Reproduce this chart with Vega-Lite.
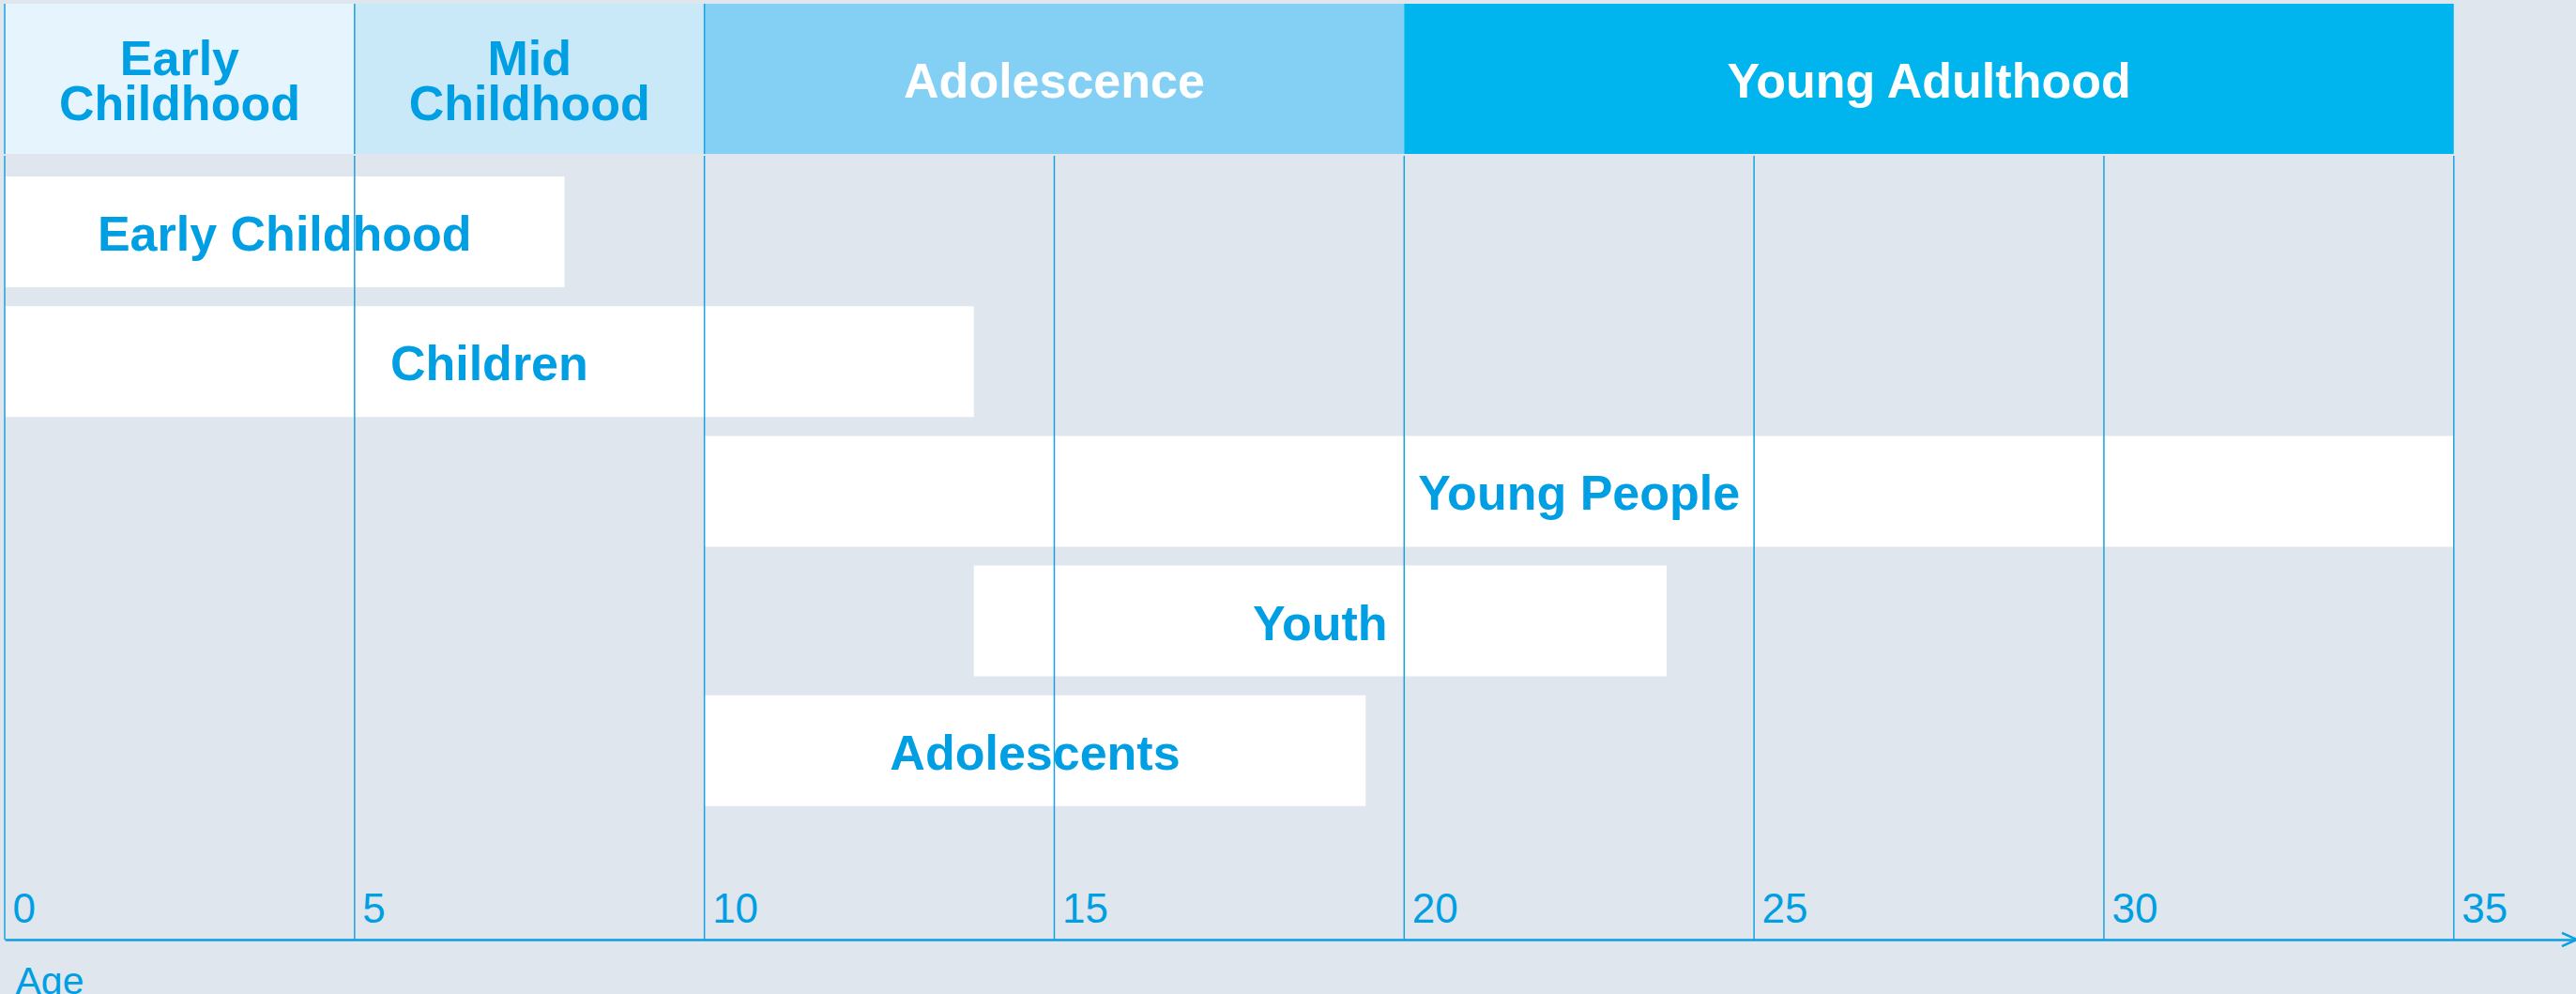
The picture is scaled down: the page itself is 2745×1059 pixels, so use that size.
{
  "$schema": "https://vega.github.io/schema/vega-lite/v6.json",
  "background": "#DFE6EE",
  "padding": {"left": 4, "top": 3, "right": 0, "bottom": 5},
  "spacing": 0,
  "config": {"view": {"stroke": null}, "font": "Liberation Sans"},
  "datasets": {
    "stages": [
      {"stage": "Early\nChildhood", "start": 0, "end": 5},
      {"stage": "Mid\nChildhood", "start": 5, "end": 10},
      {"stage": "Adolescence", "start": 10, "end": 20},
      {"stage": "Young Adulthood", "start": 20, "end": 35}
    ],
    "groups": [
      {"group": "Early Childhood", "from": 0, "to": 8},
      {"group": "Children", "from": 0, "to": 13.85},
      {"group": "Young People", "from": 10, "to": 35},
      {"group": "Youth", "from": 13.85, "to": 23.75},
      {"group": "Adolescents", "from": 10, "to": 19.45}
    ],
    "ticks": [{"age": 0}, {"age": 5}, {"age": 10}, {"age": 15}, {"age": 20}, {"age": 25}, {"age": 30}, {"age": 35}]
  },
  "vconcat": [
    {
      "width": 2741,
      "height": 160,
      "data": {"name": "stages"},
      "layer": [
        {
          "mark": {"type": "rect"},
          "encoding": {
            "x": {"field": "start", "type": "quantitative", "scale": {"domain": [0, 36.76], "nice": false, "zero": false}, "axis": null},
            "x2": {"field": "end"},
            "color": {"field": "stage", "type": "nominal", "legend": null,
              "scale": {"domain": ["Early\nChildhood", "Mid\nChildhood", "Adolescence", "Young Adulthood"], "range": ["#E5F4FD", "#C9E8F8", "#84D0F5", "#00B5EE"]}}
          }
        },
        {
          "data": {"name": "ticks"},
          "transform": [{"filter": "datum.age <= 10"}],
          "mark": {"type": "rule", "color": "#1AA1E0", "strokeWidth": 1.5},
          "encoding": {
            "x": {"field": "age", "type": "quantitative", "axis": null}
          }
        },
        {
          "transform": [{"filter": "datum.start < 10"}, {"fold": ["start", "end"], "as": ["edge", "value"]}],
          "mark": {"type": "text", "fontSize": 52, "fontWeight": "bold", "lineBreak": "\n", "lineHeight": 48, "baseline": "middle", "align": "center", "dy": -20, "color": "#009FE3"},
          "encoding": {
            "x": {"aggregate": "mean", "field": "value", "type": "quantitative", "axis": null},
            "text": {"field": "stage", "type": "nominal"}
          }
        },
        {
          "transform": [{"filter": "datum.start >= 10"}, {"fold": ["start", "end"], "as": ["edge", "value"]}],
          "mark": {"type": "text", "fontSize": 52, "fontWeight": "bold", "baseline": "middle", "align": "center", "dy": 4, "color": "#FFFFFF"},
          "encoding": {
            "x": {"aggregate": "mean", "field": "value", "type": "quantitative", "axis": null},
            "text": {"field": "stage", "type": "nominal"}
          }
        }
      ]
    },
    {
      "width": 2741,
      "height": 835,
      "data": {"name": "groups"},
      "resolve": {"axis": {"x": "independent"}},
      "layer": [
        {
          "mark": {"type": "bar", "color": "#FFFFFF"},
          "encoding": {
            "x": {"field": "from", "type": "quantitative",
              "scale": {"domain": [0, 36.76], "nice": false, "zero": false},
              "axis": {
                "values": [0, 5, 10, 15, 20, 25, 30, 35],
                "title": "Age",
                "grid": false,
                "ticks": false,
                "tickSize": 0,
                "domain": true,
                "domainColor": "#0A9FE0",
                "domainWidth": 2.5,
                "labelColor": "#009FE3",
                "labelFontSize": 44,
                "labelFont": "Liberation Sans",
                "labelAlign": "left",
                "labelBaseline": "alphabetic",
                "labelPadding": -19,
                "labelOffset": 8,
                "labelFlush": false,
                "labelOverlap": false,
                "labelBound": false,
                "titleColor": "#009FE3",
                "titleFont": "Liberation Sans",
                "titleFontSize": 41,
                "titleFontWeight": "normal",
                "titleAnchor": "start",
                "titleAlign": "left",
                "titleBaseline": "alphabetic",
                "titleX": 11,
                "titleY": 57
              }
            },
            "x2": {"field": "to"},
            "y": {"field": "group", "type": "nominal", "axis": null,
              "scale": {"domain": ["Early Childhood", "Children", "Young People", "Youth", "Adolescents"], "paddingInner": 0.146, "paddingOuter": 0.594, "align": 0.134}}
          }
        },
        {
          "transform": [{"fold": ["from", "to"], "as": ["edge", "value"]}],
          "mark": {"type": "text", "fontSize": 52, "fontWeight": "bold", "color": "#009FE3", "baseline": "middle", "align": "center", "dy": 4},
          "encoding": {
            "x": {"aggregate": "mean", "field": "value", "type": "quantitative", "axis": null},
            "y": {"field": "group", "type": "nominal", "axis": null},
            "text": {"field": "group", "type": "nominal"}
          }
        },
        {
          "data": {"name": "ticks"},
          "mark": {"type": "rule", "color": "#1AA1E0", "strokeWidth": 1.5},
          "encoding": {
            "x": {"field": "age", "type": "quantitative", "axis": null}
          }
        },
        {
          "data": {"values": [{}]},
          "mark": {"type": "point", "shape": "M-1,-0.45L0,0L-1,0.45", "size": 1024, "filled": false, "stroke": "#0A9FE0", "strokeWidth": 2.5, "opacity": 1},
          "encoding": {
            "x": {"value": "width"},
            "y": {"value": "height"}
          }
        }
      ]
    }
  ]
}
